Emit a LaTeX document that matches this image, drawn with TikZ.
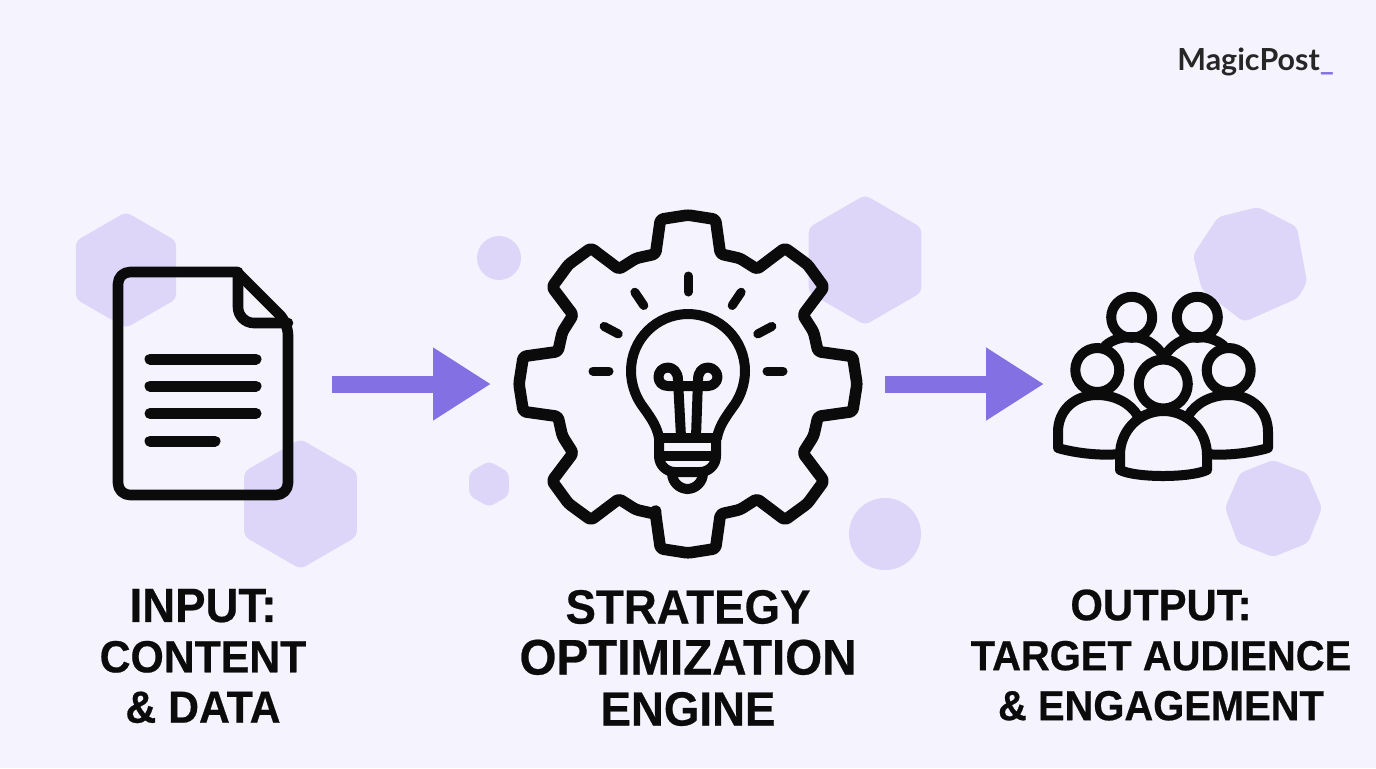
\documentclass[tikz,border=0pt]{standalone}
\usepackage{fontspec}
\setmainfont{Liberation Sans}[FakeStretch=0.95, BoldFeatures={FakeBold=0.5}]
\newfontfamily\brandfont{Lato}
\usetikzlibrary{arrows.meta, positioning}
\definecolor{pagebg}{HTML}{F5F4FE}
\definecolor{softviolet}{HTML}{DDD6F8}
\definecolor{accent}{HTML}{8370E2}
\definecolor{inkblack}{HTML}{0B0B0B}
\tikzset{
  softshape/.style={fill=softviolet, rounded corners=2.5pt},
  iconline/.style={draw=inkblack, line width=5pt, line join=round, line cap=round},
  iconbox/.style={inner sep=0pt, outer sep=0pt, minimum height=90pt},
  flowarrow/.style={draw=accent, line width=8.5pt, -{Triangle[length=29pt,width=34.5pt]}},
  steplabel/.style={align=center, text=inkblack, inner sep=0pt},
}
\newcommand{\softhex}[3]{\fill[softshape, shift={(#1,#2)}] (90:#3) -- (30:#3) -- (-30:#3) -- (-90:#3) -- (-150:#3) -- (150:#3) -- cycle;}
\begin{document}
\begin{tikzpicture}[x=0.5pt,y=-0.5pt]
\useasboundingbox (0,0) rectangle (1376,768);
\fill[pagebg] (0,0) rectangle (1376,768);
% Background shapes
\softhex{126}{270}{58}
\softhex{300.5}{504}{65}
\softhex{865}{260}{65}
\softhex{489}{484}{23}
\fill[softshape] (1258,207) -- (1297,227) -- (1307,282) -- (1298,298) -- (1244,322) -- (1202,290) -- (1193,255) -- (1218,217) -- cycle;
\fill[softshape] (1273,460) -- (1307,473) -- (1322,508) -- (1308,543) -- (1273,557) -- (1238,543) -- (1225,508) -- (1240,473) -- cycle;
\fill[softviolet] (499,258) circle (22);
\fill[softviolet] (885,534) circle (36);
% Icon places
\node[iconbox, minimum width=90pt] (doc) at (203,384) {};
\node[iconbox, minimum width=172pt] (gear) at (688,384) {};
\node[iconbox, minimum width=110pt] (crowd) at (1163,384) {};
% Document
\draw[iconline, line width=5.3pt, rounded corners=6pt] (237,272) -- (118,272) -- (118,495) -- (288,495) -- (288,323) [sharp corners] -- (237,272);
\draw[iconline, line width=5.3pt, rounded corners=8pt] (238,272) -- (238,323) -- (288,323);
\foreach \ypos/\xend in {359/261, 386/261, 413.5/261, 441/220}
  \draw[iconline, line width=5.5pt] (150,\ypos) -- (\xend-5,\ypos);
% Gear
\begin{scope}[shift={(688,384)}]
\draw[iconline, line width=5.8pt, rounded corners=1.5pt] (104:134) \foreach \a in {90,45,0,-45,-90,-135,-180,-225} {
  -- (\a+14:134) -- (\a+9.5:167) -- (\a:169) -- (\a-9.5:167) -- (\a-14:134) -- (\a-22.5:136)} -- cycle;
\end{scope}
% Bulb
\begin{scope}[shift={(688,371)}]
\foreach \a in {0,-28,-56,-90,-124,-152,-180}
  \draw[iconline, line width=4.5pt] (\a:79) -- (\a:95);
\end{scope}
\draw[iconline] (659,438) .. controls (657,425) and (648,414) .. (641,404) .. controls (635,395) and (631,383) .. (631,371)
  .. controls (631,339.5) and (656.5,314) .. (688,314) .. controls (719.5,314) and (745,339.5) .. (745,371)
  .. controls (745,383) and (741,395) .. (735,404) .. controls (728,414) and (719,425) .. (717,438);
\draw[iconline, rounded corners=8pt] (659,438) -- (659,472) -- (716,472) -- (716,438);
\draw[iconline] (659,438) -- (716,438);
\draw[iconline] (659,455.5) -- (716,455.5);
\draw[iconline, rounded corners=8pt] (672,473) -- (672,489) -- (703,489) -- (703,473);
\draw[iconline] (681,437) -- (678,380) .. controls (678,372) and (673,367.5) .. (668,367.5)
  .. controls (662,367.5) and (658.5,372) .. (658.5,377) .. controls (658.5,382) and (662,386) .. (668,386) -- (708,386)
  .. controls (713,386) and (717.5,382) .. (717.5,377) .. controls (717.5,372) and (713,367.5) .. (708,367.5)
  .. controls (702,367.5) and (698,372) .. (698,380) -- (696,437);
% Crowd
\draw[iconline] (1131.7,317.3) circle (20.5);
\draw[iconline] (1197.3,317.3) circle (20.5);
\draw[iconline] (1105,346) .. controls (1113,339) and (1122,337) .. (1132,337) .. controls (1145,337) and (1157,345) .. (1164,357);
\draw[iconline] (1224,346) .. controls (1216,339) and (1207,337) .. (1197,337) .. controls (1184,337) and (1171,345) .. (1164,357);
\draw[iconline] (1097.3,370) circle (22);
\draw[iconline] (1228.7,370) circle (22);
\draw[iconline] (1138,416) .. controls (1130,403) and (1115,395) .. (1097,395) .. controls (1075,395) and (1058,410) .. (1058,432) -- (1058,448) .. controls (1075,453) and (1100,456) .. (1120,454);
\draw[iconline] (1188,416) .. controls (1196,403) and (1211,395) .. (1229,395) .. controls (1251,395) and (1268,410) .. (1268,432) -- (1268,448) .. controls (1251,453) and (1226,456) .. (1206,454);
\draw[iconline, fill=pagebg] (1120,470) -- (1120,455) .. controls (1120,431) and (1139,411) .. (1163.5,411) .. controls (1188,411) and (1207,431) .. (1207,455) -- (1207,470) .. controls (1190,478) and (1136,478) .. (1120,470) -- cycle;
\draw[iconline, fill=pagebg] (1163.3,384) circle (24.5);
% Flow
\draw[flowarrow, shorten <=19.5pt, shorten >=12.5pt] (doc) -- (gear);
\draw[flowarrow, shorten <=12.5pt, shorten >=4.5pt] (gear) -- (crowd);
% Labels
\node[steplabel, font=\bfseries\fontsize{22.5}{25.2}\selectfont] (inputlabel) at (203,656) {\fontsize{24}{25.2}\selectfont INPUT:\\CONTENT\\\&\ DATA};
\node[steplabel, font=\bfseries\fontsize{24}{25.5}\selectfont] (enginelabel) at (688,658) {STRATEGY\\\fontsize{25}{25.5}\selectfont OPTIMIZATION\\ENGINE};
\node[steplabel, font=\bfseries\fontsize{21}{25}\selectfont] (outputlabel) at (1161,655) {\fontsize{22}{25}\selectfont OUTPUT:\\TARGET AUDIENCE\\\&\ ENGAGEMENT};
\node[inner sep=0pt, anchor=west, text=black!85, font=\brandfont\bfseries\fontsize{15.2}{16}\selectfont] (brand) at (1177,62) {MagicPost{\color{accent}\_}};
\end{tikzpicture}
\end{document}
